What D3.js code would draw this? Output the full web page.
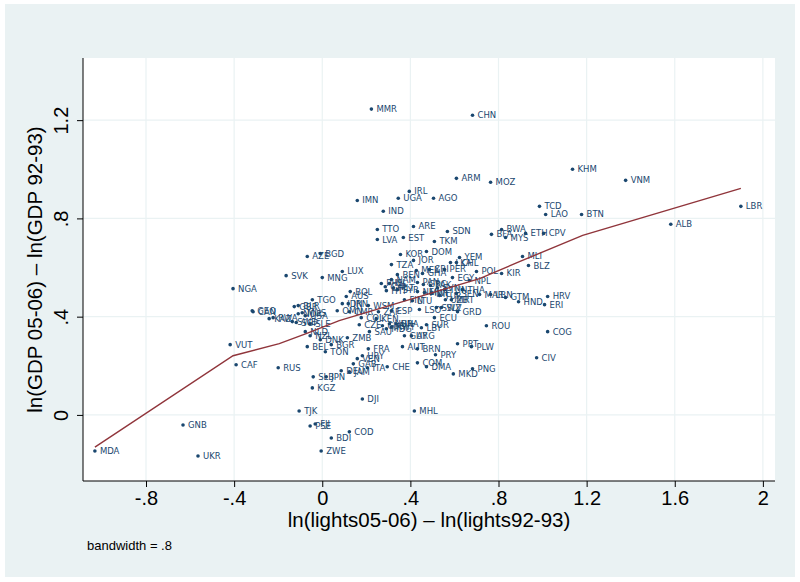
<!DOCTYPE html>
<html><head><meta charset="utf-8">
<script src="https://cdn.jsdelivr.net/npm/d3@7"></script>
<style>body{margin:0;background:#fff}svg{display:block}</style>
</head><body>
<script>
const countries = ["MMR","CHN","KHM","VNM","ARM","MOZ","IRL","IMN","UGA","AGO","IND","TCD","LAO","BTN","LBR","ALB","TTO","ARE","SDN","BWA","LVA","EST","TKM","BFA","MYS","ETH","CPV","AZE","BGD","KOR","DOM","MLI","BLZ","TZA","JOR","YEM","LKA","CHL","MEX","CRI","PER","GHA","LUX","MNG","SVK","NGA","BEN","POL","KIR","NAM","EGY","NPL","PAN","SVN","BOL","AUS","SYR","THA","SEN","MAR","LBN","GTM","HND","HRV","ERI","COG","CIV","MRT","LTU","TGO","IDN","IRN","WSM","CMR","OMN","ZAF","ESP","LSO","SWZ","SLV","GRD","ECU","ROU","COL","KEN","CZE","BRA","HUN","SUR","LBY","MDG","SAU","ZMB","DNK","GUY","ARG","BEL","BGR","TON","FRA","AUT","BRN","PRT","PLW","PRY","URY","VEN","GAB","COM","DMA","DEU","JAM","ITA","CHE","PNG","MKD","SLB","JPN","KGZ","DJI","RUS","CAF","VUT","GEO","CAN","KAZ","RWA","GBR","BLR","NOR","MUS","SWE","SGP","SLE","NLD","NZL","MDA","GNB","UKR","TJK","PSE","FJI","MHL","COD","BDI","ZWE","PHL","CYP","ISL","MLT","HTI","GRC","PAK","MWI","NIC","NER","TUN","TUR","UZB","FIN","USA","KWT","CUB"];
const lightsGrowth = [0.223,0.682,1.136,1.377,0.609,0.764,0.395,0.159,0.345,0.505,0.277,0.986,1.014,1.177,1.900,1.582,0.250,0.414,0.568,0.814,0.250,0.368,0.509,0.768,0.832,0.923,1.005,-0.068,-0.009,0.355,0.473,0.909,0.936,0.314,0.414,0.623,0.582,0.609,0.427,0.486,0.555,0.455,0.091,0.000,-0.164,-0.405,0.341,0.700,0.814,0.314,0.591,0.668,0.432,0.523,0.127,0.109,0.341,0.636,0.609,0.714,0.764,0.832,0.891,1.023,1.009,1.023,0.973,0.586,0.409,-0.045,0.091,0.118,0.209,0.123,0.068,0.255,0.314,0.441,0.518,0.541,0.614,0.509,0.745,0.177,0.245,0.168,0.336,0.305,0.473,0.450,0.291,0.214,0.114,-0.009,0.373,0.405,-0.068,0.041,0.014,0.209,0.364,0.432,0.614,0.677,0.514,0.182,0.159,0.141,0.432,0.473,0.086,0.123,0.205,0.295,0.682,0.595,-0.041,0.018,-0.045,0.182,-0.200,-0.391,-0.418,-0.318,-0.314,-0.241,-0.223,-0.127,-0.109,-0.109,-0.091,-0.136,-0.118,-0.055,-0.077,-0.055,-1.032,-0.632,-0.564,-0.105,-0.055,-0.032,0.418,0.123,0.041,-0.005,0.268,0.286,0.305,0.323,0.291,0.459,0.491,0.464,0.495,0.432,0.555,0.532,0.559,0.373,-0.077,0.314,0.273];
const gdpGrowth = [1.245,1.220,1.000,0.955,0.963,0.947,0.910,0.873,0.882,0.882,0.829,0.849,0.816,0.816,0.849,0.776,0.755,0.767,0.747,0.755,0.714,0.722,0.706,0.735,0.722,0.739,0.739,0.645,0.657,0.653,0.665,0.645,0.608,0.612,0.629,0.641,0.620,0.620,0.588,0.592,0.592,0.576,0.584,0.559,0.567,0.514,0.571,0.584,0.576,0.551,0.559,0.547,0.539,0.518,0.502,0.482,0.510,0.510,0.494,0.490,0.490,0.478,0.461,0.482,0.449,0.339,0.233,0.469,0.465,0.469,0.453,0.453,0.445,0.420,0.424,0.420,0.424,0.429,0.437,0.437,0.420,0.396,0.363,0.396,0.392,0.367,0.371,0.371,0.367,0.355,0.351,0.339,0.314,0.306,0.322,0.322,0.278,0.286,0.257,0.269,0.278,0.269,0.290,0.278,0.245,0.241,0.229,0.208,0.212,0.196,0.180,0.176,0.192,0.196,0.188,0.167,0.155,0.155,0.110,0.065,0.192,0.204,0.286,0.424,0.420,0.392,0.396,0.441,0.445,0.412,0.416,0.380,0.376,0.371,0.339,0.322,-0.147,-0.041,-0.167,0.016,-0.045,-0.037,0.016,-0.069,-0.094,-0.147,0.535,0.522,0.535,0.518,0.506,0.531,0.527,0.498,0.494,0.502,0.510,0.486,0.469,0.469,0.404,0.359,0.363];
const lowessX = [-1.032,-0.405,-0.195,-0.073,0.077,0.350,0.714,0.895,1.182,1.900];
const lowessY = [-0.131,0.241,0.290,0.331,0.384,0.457,0.555,0.624,0.731,0.922];
const xTicks = [-0.8,-0.4,0,0.4,0.8,1.2,1.6,2];
const xTickLabels = ["-.8","-.4","0",".4",".8","1.2","1.6","2"];
const yTicks = [0,0.4,0.8,1.2];
const yTickLabels = ["0",".4",".8","1.2"];

const W=800,H=582;
const P={l:83,r:775,t:58,b:481};
const navy="#1a476f", maroon="#90353b", bg="#eaf2f3";
const narrow = "'Liberation Sans Narrow','Arial Narrow',sans-serif";

const svg=d3.select("body").append("svg").attr("width",W).attr("height",H);
svg.append("rect").attr("x",5).attr("y",4).attr("width",790).attr("height",573).attr("fill",bg);
svg.append("rect").attr("x",P.l).attr("y",P.t).attr("width",P.r-P.l).attr("height",P.b-P.t).attr("fill","#fff");

const x=d3.scaleLinear().domain([-1.086,2.055]).range([P.l,P.r]);
const y=d3.scaleLinear().domain([-0.269,1.453]).range([P.b,P.t]);

// grid
svg.append("g").selectAll("line").data(xTicks).join("line")
  .attr("x1",d=>x(d)).attr("x2",d=>x(d)).attr("y1",P.t).attr("y2",P.b)
  .attr("stroke",bg).attr("stroke-width",1.2);
svg.append("g").selectAll("line").data(yTicks).join("line")
  .attr("y1",d=>y(d)).attr("y2",d=>y(d)).attr("x1",P.l).attr("x2",P.r)
  .attr("stroke",bg).attr("stroke-width",1.2);

// axes
const xAxis=d3.axisBottom(x).tickValues(xTicks).tickFormat((d,i)=>xTickLabels[i]).tickSize(6).tickPadding(5);
const gx=svg.append("g").attr("transform",`translate(0,${P.b})`).call(xAxis);
gx.select(".domain").attr("d",`M${P.l},0H${P.r}`).attr("stroke","#000");
gx.selectAll(".tick line").attr("stroke","#000");
gx.selectAll(".tick text").attr("font-family",narrow).attr("font-size",20).attr("fill","#000").attr("y",10).attr("dy","0.71em");

const yAxis=d3.axisLeft(y).tickValues(yTicks).tickFormat((d,i)=>yTickLabels[i]).tickSize(6);
const gy=svg.append("g").attr("transform",`translate(${P.l},0)`).call(yAxis);
gy.select(".domain").attr("d",`M0,${P.t}V${P.b}`).attr("stroke","#000");
gy.selectAll(".tick line").attr("stroke","#000");
gy.selectAll(".tick text").attr("font-family",narrow).attr("font-size",20).attr("fill","#000")
  .attr("x",null).attr("dy",null).attr("text-anchor","middle")
  .attr("transform","translate(-15,0) rotate(-90)");

// points
const pts=countries.map((c,i)=>({c,x:lightsGrowth[i],y:gdpGrowth[i]}));
const gp=svg.append("g");
gp.selectAll("circle").data(pts).join("circle")
  .attr("cx",d=>x(d.x)).attr("cy",d=>y(d.y)).attr("r",1.8).attr("fill",navy);
gp.selectAll("text").data(pts).join("text")
  .attr("x",d=>x(d.x)+5).attr("y",d=>y(d.y)).attr("dy","0.35em")
  .attr("font-family","'DejaVu Sans',sans-serif").attr("font-size",8.5).attr("fill",navy)
  .text(d=>d.c);

// lowess
const lw=lowessX.map((v,i)=>[v,lowessY[i]]);
svg.append("path").datum(lw).attr("d",d3.line().x(d=>x(d[0])).y(d=>y(d[1])))
  .attr("fill","none").attr("stroke",maroon).attr("stroke-width",1.4);

// titles
svg.append("text").attr("x",(P.l+P.r)/2).attr("y",527).attr("text-anchor","middle")
  .attr("font-family",narrow).attr("font-size",20.5).text("ln(lights05-06) \u2013 ln(lights92-93)");
svg.append("text").attr("transform",`translate(42,${(P.t+P.b)/2}) rotate(-90)`).attr("text-anchor","middle")
  .attr("font-family",narrow).attr("font-size",20.5).text("ln(GDP 05-06) \u2013 ln(GDP 92-93)");
svg.append("text").attr("x",87).attr("y",550).attr("font-family",narrow).attr("font-size",13).text("bandwidth = .8");
</script>
</body></html>
